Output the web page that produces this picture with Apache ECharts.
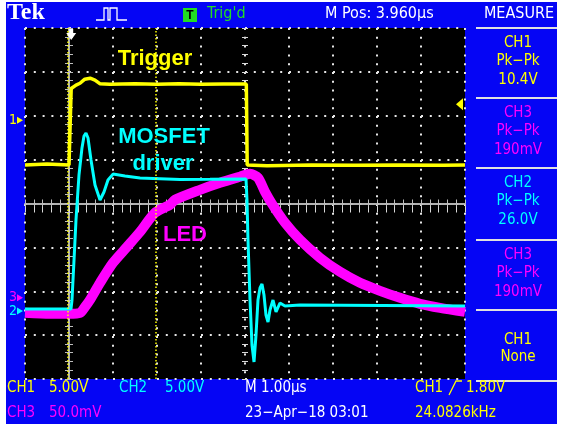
<!DOCTYPE html>
<html>
<head>
<meta charset="utf-8">
<script src="https://cdn.jsdelivr.net/npm/echarts/dist/echarts.min.js"></script>
<style>
  html, body { margin: 0; padding: 0; background: #ffffff; }
  #scope { width: 563px; height: 427px; }
</style>
</head>
<body>
<div id="scope"></div>
<script>
// ---- Captured waveforms (time in µs relative to the trigger point) ----

// CH1: trigger signal, volts
const ch1Time  = [-1.0, -0.5, 0.0, 0.03, 0.05, 0.09, 0.16, 0.25, 0.36, 0.48, 0.59, 0.70, 0.93, 1.5, 2.0, 2.5, 3.0, 3.5, 4.03, 4.05, 4.5, 5.5, 6.5, 7.5, 8.5, 9.0];
const ch1Volts = [-5.1, -5.0, -5.1, -5.1, 3.6, 3.76, 3.99, 4.2, 4.67, 4.78, 4.56, 4.16, 4.1, 4.15, 4.1, 4.15, 4.1, 4.12, 4.12, -5.1, -5.2, -5.1, -5.15, -5.1, -5.15, -5.1];

// CH2: MOSFET gate driver, volts
const ch2Time  = [-1.0, 0.045, 0.068, 0.114, 0.159, 0.227, 0.295, 0.341, 0.386, 0.432, 0.5, 0.591, 0.705, 0.795, 0.886, 1.0, 1.273, 1.614, 2.523, 3.205, 4.023, 4.045, 4.068, 4.114, 4.159, 4.205, 4.25, 4.295, 4.341, 4.386, 4.432, 4.477, 4.523, 4.568, 4.636, 4.705, 4.795, 4.909, 5.25, 9.0];
const ch2Volts = [0.23, 0.23, 1.25, 5.81, 10.37, 15.5, 18.58, 19.94, 20.28, 19.72, 17.21, 14.36, 12.65, 13.56, 14.93, 15.6, 15.38, 15.16, 14.99, 15.0, 15.04, 12.65, 8.09, 1.25, -3.87, -5.81, -2.74, 1.25, 2.62, 3.08, 1.82, -0.46, -1.25, 0.11, 1.25, -0.11, 0.91, 0.57, 0.68, 0.57];

// CH3: LED light output (photodiode), millivolts
const ch3Time      = [-1.0, -0.432, 0.0, 0.25, 0.364, 0.477, 0.705, 1.0, 1.318, 1.614, 1.955, 2.295, 2.409, 2.977, 3.432, 3.886, 4.114, 4.295, 4.455, 4.614, 4.909, 5.25, 5.705, 6.159, 6.614, 7.068, 7.523, 7.977, 8.432, 9.0];
const ch3MilliVolts = [-17.1, -18.2, -18.2, -17.1, -10.3, -2.3, 17.1, 39.9, 58.1, 75.2, 96.9, 106.0, 111.7, 123.1, 131.1, 138.0, 141.3, 136.8, 120.8, 107.1, 85.5, 66.1, 45.6, 29.6, 17.1, 8.0, 0.0, -6.8, -11.4, -16.0];

// Vertical cursors (µs) and the CH1 trigger level (V)
const cursorTimes = [-0.02, 1.98];
const triggerLevel = 1.80;
const triggerTime = 0.05;

// Measurement panel entries
const measureChannels = ['CH1', 'CH3', 'CH2', 'CH3'];
const measureKinds    = ['Pk\u2212Pk', 'Pk\u2212Pk', 'Pk\u2212Pk', 'Pk\u2212Pk'];
const measureValues   = ['10.4V', '190mV', '26.0V', '190mV'];

// ---- Display setup ----
const COLORS = { CH1: '#ffff00', CH2: '#00ffff', CH3: '#ff00ff' };
const BLUE = '#0505f5';
const GRID = { left: 25, top: 28, width: 440, height: 351 };
// channel scale (units per division) and vertical position (divisions above centre)
const channels = {
  CH1: { perDiv: 5, pos: 1.9 },
  CH2: { perDiv: 5, pos: -2.45 },
  CH3: { perDiv: 50, pos: -2.15 }
};
const FONT = "'Liberation Sans Narrow', 'DejaVu Sans Condensed', 'Liberation Sans', sans-serif";

function zip(a, b) { return a.map((v, i) => [v, b[i]]); }
function chAxis(name) {
  const c = channels[name];
  return { type: 'value', show: false, min: (-4 - c.pos) * c.perDiv, max: (4 - c.pos) * c.perDiv };
}

const dotted = { color: '#e6e6e6', width: 2, type: [2, 6.8] };
const edge = { show: true, lineStyle: { color: '#bdbdbd', width: 1.5 } };

function divX(extra) {
  return Object.assign({
    type: 'value', min: -1, max: 9, interval: 1,
    axisLabel: { show: false }, splitLine: { show: false },
    axisLine: edge,
    axisTick: { show: true, inside: true, length: 4, lineStyle: { color: '#bdbdbd' } },
    minorTick: { show: true, splitNumber: 5, length: 4, lineStyle: { color: '#bdbdbd' } }
  }, extra);
}
function divY(extra) {
  return Object.assign({
    type: 'value', min: -4, max: 4, interval: 1,
    axisLabel: { show: false }, splitLine: { show: false },
    axisLine: edge,
    axisTick: { show: true, inside: true, length: 4, lineStyle: { color: '#bdbdbd' } },
    minorTick: { show: true, splitNumber: 5, length: 4, lineStyle: { color: '#bdbdbd' } }
  }, extra);
}
const centreTick = { show: true, inside: false, length: 6, lineStyle: { color: '#d8d8d8' } };
const centreMinor = { show: true, splitNumber: 5, length: 6, lineStyle: { color: '#d8d8d8' } };

function txt(x, y, s, color, opts) {
  return {
    type: 'text', x: x, y: y, silent: true, z: 10,
    style: Object.assign({ text: s, fill: color, font: '15px ' + FONT, textAlign: 'left', textVerticalAlign: 'middle' }, opts || {})
  };
}

const chart = echarts.init(document.getElementById('scope'), null, { renderer: 'canvas' });

const chrome = [];
// instrument frame and black screen
chrome.push({ type: 'rect', shape: { x: 6, y: 2, width: 551, height: 422 }, style: { fill: BLUE }, z: -10, silent: true });
chrome.push({ type: 'rect', shape: { x: GRID.left, y: GRID.top, width: GRID.width, height: GRID.height }, style: { fill: '#000000' }, z: -9, silent: true });
// header
chrome.push(txt(7, 13, 'Tek', '#ffffff', { font: 'bold 24px "Liberation Serif", serif' }));
chrome.push({ type: 'polyline', silent: true, shape: { points: [[96, 20], [104, 20], [104, 8], [108, 8], [108, 20], [110, 20], [110, 8], [117, 8], [117, 20], [127, 20]] },
  style: { stroke: '#ffffff', lineWidth: 1.3, fill: null } });
chrome.push({ type: 'rect', silent: true, shape: { x: 183, y: 8, width: 14, height: 14 }, style: { fill: '#22dd22' } });
chrome.push(txt(190, 15.5, 'T', '#000000', { font: 'bold 12px "Liberation Sans", sans-serif', textAlign: 'center' }));
chrome.push(txt(207, 14, "Trig'd", '#22dd22', { font: '16px ' + FONT }));
chrome.push(txt(325, 14, 'M Pos: 3.960\u00b5s', '#ffffff', { font: '16px ' + FONT }));
chrome.push(txt(519, 14, 'MEASURE', '#ffffff', { font: '16px ' + FONT, textAlign: 'center' }));

// measurement panel
const sepY = [28, 98, 168, 240, 310, 381];
sepY.forEach(y => chrome.push({ type: 'line', silent: true, shape: { x1: 476, y1: y, x2: 557, y2: y }, style: { stroke: '#e0e0e0', lineWidth: 2 } }));
measureChannels.forEach((ch, i) => {
  const top = sepY[i];
  const c = COLORS[ch];
  chrome.push(txt(518, top + 15, ch, c, { textAlign: 'center' }));
  chrome.push(txt(518, top + 33, measureKinds[i], c, { textAlign: 'center' }));
  chrome.push(txt(518, top + 52, measureValues[i], c, { textAlign: 'center' }));
});
chrome.push(txt(518, 340, 'CH1', COLORS.CH1, { textAlign: 'center' }));
chrome.push(txt(518, 357, 'None', COLORS.CH1, { textAlign: 'center' }));

// footer
chrome.push(txt(7, 388, 'CH1', COLORS.CH1));
chrome.push(txt(49, 388, '5.00V', COLORS.CH1));
chrome.push(txt(119, 388, 'CH2', COLORS.CH2));
chrome.push(txt(165, 388, '5.00V', COLORS.CH2));
chrome.push(txt(245, 388, 'M 1.00\u00b5s', '#ffffff'));
chrome.push(txt(415, 388, 'CH1', COLORS.CH1));
chrome.push({ type: 'polyline', silent: true, shape: { points: [[449, 395], [456, 381], [462, 381]] }, style: { stroke: COLORS.CH1, lineWidth: 1.3, fill: null } });
chrome.push(txt(466, 388, triggerLevel.toFixed(2) + 'V', COLORS.CH1));
chrome.push(txt(7, 413, 'CH3', COLORS.CH3));
chrome.push(txt(49, 413, '50.0mV', COLORS.CH3));
chrome.push(txt(245, 413, '23\u2212Apr\u221218 03:01', '#ffffff'));
chrome.push(txt(415, 413, '24.0826kHz', COLORS.CH1));

// trace annotations
const big = 'bold 22px "Liberation Sans", Arial, sans-serif';
chrome.push(txt(155, 59, 'Trigger', COLORS.CH1, { font: big, textAlign: 'center' }));
chrome.push(txt(164, 137, 'MOSFET', COLORS.CH2, { font: big, textAlign: 'center' }));
chrome.push(txt(163, 164, 'driver', COLORS.CH2, { font: big, textAlign: 'center' }));
chrome.push(txt(185, 235, 'LED', COLORS.CH3, { font: big, textAlign: 'center' }));

const option = {
  animation: false,
  backgroundColor: '#ffffff',
  grid: Object.assign({ show: false, containLabel: false }, GRID),
  xAxis: [
    divX({ position: 'bottom', splitLine: { show: true, lineStyle: dotted } }),
    divX({ position: 'top' }),
    divX({ position: 'bottom', offset: -178.5, axisLine: { show: false }, axisTick: centreTick, minorTick: centreMinor })
  ],
  yAxis: [
    divY({ position: 'left', splitLine: { show: true, lineStyle: dotted } }),
    divY({ position: 'right' }),
    divY({ position: 'left', offset: -223, axisLine: { show: false }, axisTick: centreTick, minorTick: centreMinor }),
    chAxis('CH1'), chAxis('CH2'), chAxis('CH3')
  ],
  series: [
    {
      name: 'CH3', type: 'line', xAxisIndex: 0, yAxisIndex: 5, data: zip(ch3Time, ch3MilliVolts),
      showSymbol: false, smooth: 0.25, lineStyle: { color: COLORS.CH3, width: 10 }, z: 3
    },
    {
      name: 'CH2', type: 'line', xAxisIndex: 0, yAxisIndex: 4, data: zip(ch2Time, ch2Volts),
      showSymbol: false, lineStyle: { color: COLORS.CH2, width: 3 }, z: 4
    },
    {
      name: 'CH1', type: 'line', xAxisIndex: 0, yAxisIndex: 3, data: zip(ch1Time, ch1Volts),
      showSymbol: false, lineStyle: { color: COLORS.CH1, width: 3.5 }, z: 5,
      markLine: {
        silent: true, symbol: 'none', label: { show: false },
        lineStyle: { color: COLORS.CH1, type: [1.5, 2], width: 1.5 },
        data: cursorTimes.map(t => ({ xAxis: t }))
      }
    }
  ],
  graphic: chrome
};
chart.setOption(option);

// channel ground markers, trigger level and trigger position, placed through the axes
const gnd = ['CH1', 'CH3', 'CH2'].map((ch) => {
  const idx = { CH1: 3, CH2: 4, CH3: 5 }[ch];
  const y = chart.convertToPixel({ yAxisIndex: idx }, 0);
  return [
    txt(9, y, ch.slice(2), COLORS[ch], { font: '14px ' + FONT }),
    { type: 'polygon', silent: true, z: 10, shape: { points: [[17, y - 3.5], [23, y], [17, y + 3.5]] }, style: { fill: COLORS[ch] } }
  ];
}).flat();
const ty = chart.convertToPixel({ yAxisIndex: 3 }, triggerLevel);
gnd.push({ type: 'polygon', silent: true, z: 10, shape: { points: [[456, ty], [463, ty - 6], [463, ty + 6]] }, style: { fill: COLORS.CH1 } });
const tx = chart.convertToPixel({ xAxisIndex: 0 }, triggerTime);
gnd.push({ type: 'polygon', silent: true, z: 20, shape: { points: [[tx - 2, 29], [tx + 2, 29], [tx + 2, 33], [tx + 5, 33], [tx, 40], [tx - 5, 33], [tx - 2, 33]] }, style: { fill: '#ffffff' } });
chart.setOption({ graphic: chrome.concat(gnd) });
</script>
</body>
</html>
